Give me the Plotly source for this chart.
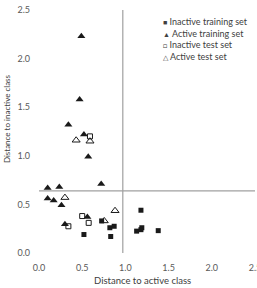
import plotly.graph_objects as go

# Data
inact_train_x = [1.18, 0.725, 0.82, 0.87, 0.52, 0.83, 1.13, 1.18, 1.19, 1.38]
inact_train_y = [0.44, 0.33, 0.26, 0.275, 0.19, 0.17, 0.225, 0.24, 0.26, 0.23]

act_train_x = [0.49, 0.47, 0.34, 0.52, 0.57, 0.72, 0.10, 0.235, 0.10, 0.17, 0.26, 0.56, 0.30]
act_train_y = [2.23, 1.58, 1.32, 1.22, 0.99, 0.71, 0.67, 0.68, 0.56, 0.54, 0.49, 0.37, 0.295]

inact_test_x = [0.59, 0.50, 0.575, 0.34]
inact_test_y = [1.20, 0.38, 0.31, 0.275]

act_test_x = [0.43, 0.59, 0.30, 0.88, 0.755]
act_test_y = [1.16, 1.15, 0.57, 0.435, 0.33]

threshold_x = 0.97
threshold_y = 0.64

x_ticks = [0.0, 0.5, 1.0, 1.5, 2.0, 2.5]
y_ticks = [0.0, 0.5, 1.0, 1.5, 2.0, 2.5]

series_names = ["Inactive training set", "Active training set",
                "Inactive test set", "Active test set"]
legend_glyphs = ["■", "▲", "□", "△"]

font_family = "Lato"
black = "#1a1a1a"
text_col = "#404040"

fig = go.Figure()
fig.add_trace(go.Scatter(x=inact_train_x, y=inact_train_y, mode="markers",
                         name=series_names[0],
                         marker=dict(symbol="square", size=5, color=black)))
fig.add_trace(go.Scatter(x=act_train_x, y=act_train_y, mode="markers",
                         name=series_names[1],
                         marker=dict(symbol="triangle-up", size=7, color=black)))
fig.add_trace(go.Scatter(x=inact_test_x, y=inact_test_y, mode="markers",
                         name=series_names[2],
                         marker=dict(symbol="square-open", size=5, color=black,
                                     line=dict(width=1))))
fig.add_trace(go.Scatter(x=act_test_x, y=act_test_y, mode="markers",
                         name=series_names[3],
                         marker=dict(symbol="triangle-up-open", size=7, color=black,
                                     line=dict(width=1))))

line_col = "#a0a0a0"
fig.add_shape(type="line", xref="x", yref="y", x0=threshold_x, x1=threshold_x,
              y0=0, y1=2.5, line=dict(color=line_col, width=1.2), layer="below")
fig.add_shape(type="line", xref="x", yref="y", x0=0, x1=2.5,
              y0=threshold_y, y1=threshold_y, line=dict(color=line_col, width=1.2), layer="below")

axis_common = dict(showgrid=False, zeroline=False, showline=False, ticks="",
                   automargin=False, ticklabeloverflow="allow",
                   tickfont=dict(size=9, color="#595959", family=font_family))

# Compact legend drawn as text (Excel style spacing)
legend_text = "<br>".join(
    f'<span style="font-size:7px">{g}</span> {n}' for g, n in zip(legend_glyphs, series_names))
fig.add_annotation(xref="paper", yref="paper", x=0.565, y=0.985, xanchor="left", yanchor="top",
                   text=legend_text, showarrow=False, align="left",
                   font=dict(size=9, color=text_col, family=font_family))

# Axis titles
fig.add_annotation(xref="paper", yref="paper", x=0.479, y=-0.115, xanchor="center",
                   yanchor="middle", text="Distance to active class", showarrow=False,
                   font=dict(size=9.5, color=text_col, family=font_family))
fig.add_annotation(xref="paper", yref="paper", x=0, xshift=-32, y=0.551, xanchor="center",
                   yanchor="middle", text="Distance to inactive class", showarrow=False,
                   textangle=-90, font=dict(size=8, color=text_col, family=font_family))

fig.update_layout(
    width=257, height=288,
    margin=dict(l=39, r=2, t=10, b=35),
    paper_bgcolor="white", plot_bgcolor="white",
    font=dict(family=font_family, color=text_col),
    xaxis=dict(range=[0, 2.5], tickvals=x_ticks, ticktext=[f"{v:.1f}" for v in x_ticks],
               ticklabelstandoff=8, **axis_common),
    yaxis=dict(range=[0, 2.5], tickvals=y_ticks, ticktext=[f"{v:.1f}" for v in y_ticks],
               ticklabelstandoff=8, **axis_common),
    showlegend=False,
)

fig.write_html("out.html")
